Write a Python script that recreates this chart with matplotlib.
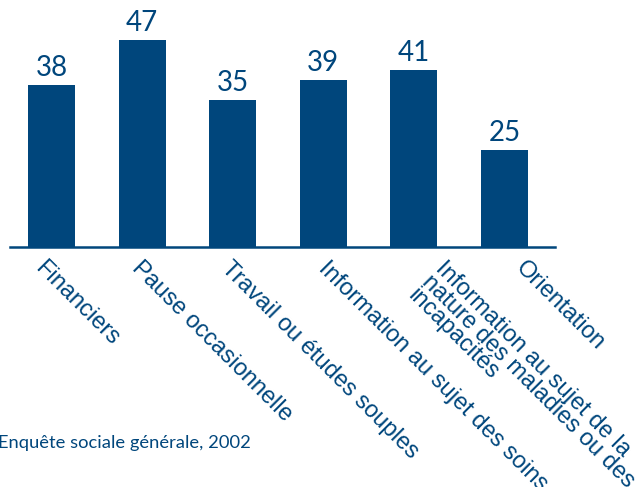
import matplotlib
matplotlib.use("Agg")
import matplotlib.pyplot as plt
from matplotlib.transforms import ScaledTranslation

# data
categories = [
    "Financiers",
    "Pause occasionnelle",
    "Travail ou études souples",
    "Information au sujet des soins",
    "Information au sujet de la\nnature des maladies ou des\nincapacités",
    "Orientation",
]
values = [38, 47, 35, 39, 41, 25]
source = "Enquête sociale générale, 2002"

BLUE = "#00467c"

# per-label horizontal nudges (pixels), the original labels are placed by hand
label_dx = [-5, 1, 0, 6, 33, 22]

fig = plt.figure(figsize=(6.41, 4.87), dpi=100)
ax = fig.add_axes([10 / 641, (487 - 247) / 487, 545 / 641, 247 / 487])

x = list(range(len(values)))
ax.bar(x, values, width=0.52, color=BLUE, zorder=2)

for xi, v in zip(x, values):
    ax.annotate(str(v), (xi, v), xytext=(0, 3), textcoords="offset points",
                ha="center", va="bottom", fontsize=20, family="Lato", color=BLUE)

ax.set_xlim(-0.458, 5.557)
ax.set_ylim(5.6, 55)
ax.set_yticks([])
ax.set_xticks([])
for s in ("top", "right", "left"):
    ax.spines[s].set_visible(False)
ax.spines["bottom"].set_color(BLUE)
ax.spines["bottom"].set_linewidth(1.8)
ax.patch.set_alpha(0)

trans = ax.get_xaxis_transform()
for xi, lab, dx in zip(x, categories, label_dx):
    off = ScaledTranslation(dx / 100, -10 / 100, fig.dpi_scale_trans)
    ax.text(xi, 0, lab, transform=trans + off, rotation=-45,
            rotation_mode="anchor", ha="left", va="top",
            fontsize=17, family="Liberation Sans", color=BLUE,
            linespacing=0.85)

fig.text(-2 / 641, (487 - 448) / 487, source, ha="left", va="baseline",
         fontsize=13.2, family="Lato", color=BLUE)

fig.savefig("out.png", dpi=100)
